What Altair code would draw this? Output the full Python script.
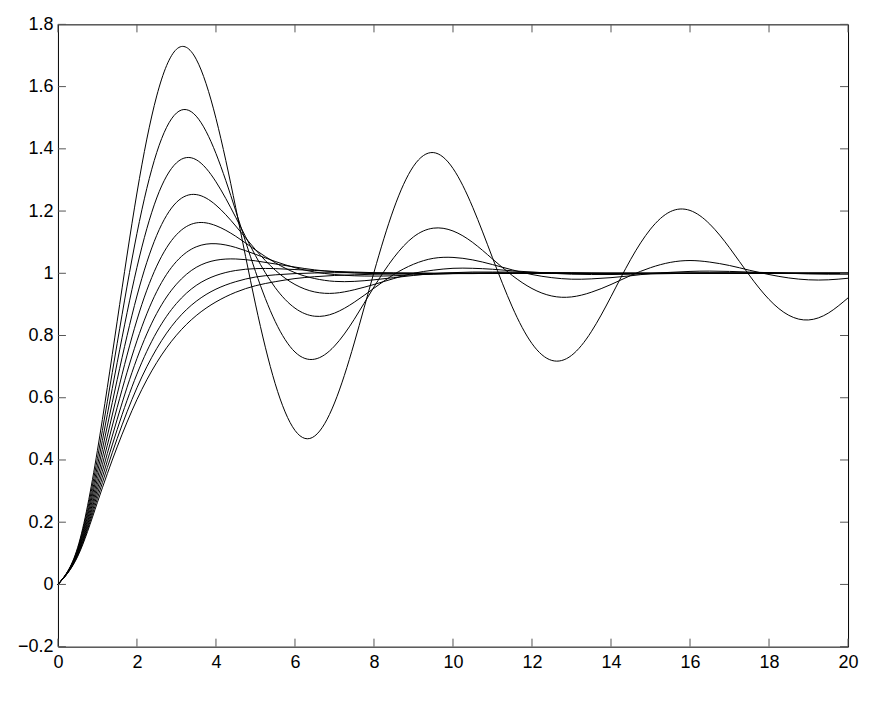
import altair as alt
import pandas as pd

# time samples
t = [0, 0.5, 1, 1.5, 2, 2.5, 3, 3.5, 4, 4.5, 5,
     5.5, 6, 6.5, 7, 7.5, 8, 8.5, 9, 9.5, 10,
     10.5, 11, 11.5, 12, 12.5, 13, 13.5, 14, 14.5, 15,
     15.5, 16, 16.5, 17, 17.5, 18, 18.5, 19, 19.5, 20]

y_z01 = [0, 0.119, 0.431, 0.846, 1.258, 1.570, 1.720, 1.688, 1.498, 1.211, 0.901,
         0.645, 0.495, 0.477, 0.583, 0.776, 1.003, 1.207, 1.344, 1.388, 1.337,
         1.212, 1.050, 0.892, 0.774, 0.720, 0.736, 0.812, 0.925, 1.045, 1.142,
         1.198, 1.202, 1.158, 1.082, 0.994, 0.916, 0.865, 0.850, 0.872, 0.921]
y_z02 = [0, 0.115, 0.405, 0.775, 1.128, 1.388, 1.515, 1.505, 1.385, 1.201, 1.006,
         0.845, 0.747, 0.724, 0.766, 0.852, 0.956, 1.050, 1.117, 1.145, 1.136,
         1.099, 1.046, 0.993, 0.951, 0.927, 0.924, 0.939, 0.964, 0.993, 1.018,
         1.035, 1.041, 1.036, 1.025, 1.010, 0.996, 0.985, 0.979, 0.979, 0.984]
y_z03 = [0, 0.111, 0.381, 0.713, 1.019, 1.242, 1.355, 1.365, 1.294, 1.180, 1.057,
         0.954, 0.888, 0.862, 0.872, 0.907, 0.952, 0.996, 1.029, 1.048, 1.051,
         1.043, 1.028, 1.011, 0.996, 0.986, 0.981, 0.982, 0.986, 0.992, 0.999,
         1.003, 1.006, 1.007, 1.006, 1.004, 1.002, 1.000, 0.998, 0.997, 0.997]
y_z04 = [0, 0.108, 0.360, 0.658, 0.927, 1.122, 1.228, 1.253, 1.219, 1.152, 1.076,
         1.010, 0.964, 0.940, 0.936, 0.947, 0.964, 0.983, 1.000, 1.010, 1.016,
         1.016, 1.013, 1.008, 1.004, 1.000, 0.997, 0.996, 0.996, 0.997, 0.998,
         0.999, 1.000, 1.001, 1.001, 1.001, 1.001, 1.000, 1.000, 1.000, 1.000]
y_z05 = [0, 0.104, 0.340, 0.611, 0.850, 1.023, 1.124, 1.162, 1.153, 1.119, 1.075,
         1.034, 1.002, 0.983, 0.974, 0.974, 0.979, 0.986, 0.993, 0.999, 1.002,
         1.004, 1.004, 1.004, 1.003, 1.002, 1.001, 1.000, 0.999, 0.999, 0.999,
         1.000, 1.000, 1.000, 1.000, 1.000, 1.000, 1.000, 1.000, 1.000, 1.000]
y_z06 = [0, 0.101, 0.322, 0.569, 0.783, 0.941, 1.038, 1.085, 1.095, 1.083, 1.061,
         1.038, 1.018, 1.004, 0.996, 0.992, 0.991, 0.992, 0.995, 0.997, 0.999,
         1.000, 1.001, 1.001, 1.001, 1.001, 1.001, 1.000, 1.000, 1.000, 1.000,
         1.000, 1.000, 1.000, 1.000, 1.000, 1.000, 1.000, 1.000, 1.000, 1.000]
y_z07 = [0, 0.098, 0.306, 0.531, 0.726, 0.871, 0.965, 1.019, 1.042, 1.046, 1.040,
         1.030, 1.020, 1.011, 1.005, 1.001, 0.999, 0.998, 0.998, 0.998, 0.999,
         0.999, 1.000, 1.000, 1.000, 1.000, 1.000, 1.000, 1.000, 1.000, 1.000,
         1.000, 1.000, 1.000, 1.000, 1.000, 1.000, 1.000, 1.000, 1.000, 1.000]
y_z08 = [0, 0.095, 0.291, 0.498, 0.676, 0.811, 0.903, 0.961, 0.993, 1.009, 1.015,
         1.015, 1.012, 1.009, 1.006, 1.004, 1.002, 1.001, 1.000, 1.000, 1.000,
         1.000, 1.000, 1.000, 1.000, 1.000, 1.000, 1.000, 1.000, 1.000, 1.000,
         1.000, 1.000, 1.000, 1.000, 1.000, 1.000, 1.000, 1.000, 1.000, 1.000]
y_z09 = [0, 0.093, 0.277, 0.469, 0.632, 0.758, 0.849, 0.910, 0.949, 0.973, 0.988,
         0.995, 0.999, 1.001, 1.002, 1.002, 1.001, 1.001, 1.001, 1.000, 1.000,
         1.000, 1.000, 1.000, 1.000, 1.000, 1.000, 1.000, 1.000, 1.000, 1.000,
         1.000, 1.000, 1.000, 1.000, 1.000, 1.000, 1.000, 1.000, 1.000, 1.000]
y_z10 = [0, 0.090, 0.264, 0.442, 0.594, 0.713, 0.801, 0.864, 0.908, 0.939, 0.960,
         0.973, 0.983, 0.989, 0.993, 0.995, 0.997, 0.998, 0.999, 0.999, 1.000,
         1.000, 1.000, 1.000, 1.000, 1.000, 1.000, 1.000, 1.000, 1.000, 1.000,
         1.000, 1.000, 1.000, 1.000, 1.000, 1.000, 1.000, 1.000, 1.000, 1.000]

series_names = ["0.1", "0.2", "0.3", "0.4", "0.5", "0.6", "0.7", "0.8", "0.9", "1.0"]
series_values = [y_z01, y_z02, y_z03, y_z04, y_z05, y_z06, y_z07, y_z08, y_z09, y_z10]

x_ticks = [0, 2, 4, 6, 8, 10, 12, 14, 16, 18, 20]
y_ticks = [-0.2, 0, 0.2, 0.4, 0.6, 0.8, 1.0, 1.2, 1.4, 1.6, 1.8]

rows = []
for name, vals in zip(series_names, series_values):
    for tt, v in zip(t, vals):
        rows.append({"t": tt, "y": v, "zeta": name})
df = pd.DataFrame(rows)

W, H = 791, 623
TICK = 8
FONT = "Liberation Sans"

xscale = alt.Scale(domain=[0, 20], nice=False, zero=False)
yscale = alt.Scale(domain=[-0.2, 1.8], nice=False, zero=False)

lines = alt.Chart(df).mark_line(
    color="black", strokeWidth=1, interpolate="natural"
).encode(
    x=alt.X("t:Q", scale=xscale,
            axis=alt.Axis(values=x_ticks, title=None, format="~f",
                          labelPadding=7, labelFlush=False)),
    y=alt.Y("y:Q", scale=yscale,
            axis=alt.Axis(values=y_ticks, title=None, format="~f",
                          labelPadding=5, labelFlush=False)),
    detail="zeta:N",
)

xt = pd.DataFrame({"v": x_ticks})
yt = pd.DataFrame({"v": y_ticks})
tick_color = "#555555"

x_ticks_bottom = alt.Chart(xt).mark_rule(color=tick_color, strokeWidth=1).encode(
    x=alt.X("v:Q", scale=xscale), y=alt.value(H), y2=alt.value(H - TICK))
x_ticks_top = alt.Chart(xt).mark_rule(color=tick_color, strokeWidth=1).encode(
    x=alt.X("v:Q", scale=xscale), y=alt.value(0), y2=alt.value(TICK))
y_ticks_left = alt.Chart(yt).mark_rule(color=tick_color, strokeWidth=1).encode(
    y=alt.Y("v:Q", scale=yscale), x=alt.value(0), x2=alt.value(TICK))
y_ticks_right = alt.Chart(yt).mark_rule(color=tick_color, strokeWidth=1).encode(
    y=alt.Y("v:Q", scale=yscale), x=alt.value(W - TICK), x2=alt.value(W))

chart = alt.layer(
    lines, x_ticks_bottom, x_ticks_top, y_ticks_left, y_ticks_right
).properties(
    width=W, height=H,
    autosize=alt.AutoSizeParams(type="none"),
    padding={"left": 50, "top": 16, "right": 30, "bottom": 40},
).configure_view(
    stroke="black", strokeWidth=1
).configure_axis(
    domain=False, ticks=False, tickSize=0, grid=False,
    labelFont=FONT, labelFontSize=18, labelColor="black",
)

chart.save("out.html", embed_options={"renderer": "svg", "actions": False})
